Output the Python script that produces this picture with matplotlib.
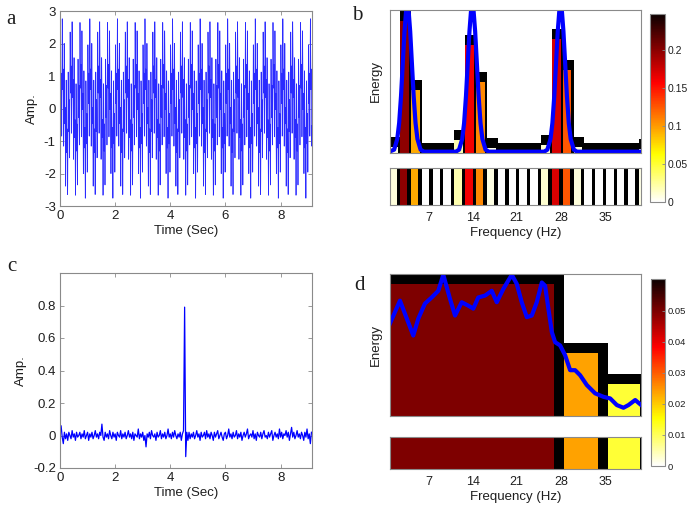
import numpy as np
import matplotlib
matplotlib.use('Agg')
import matplotlib.pyplot as plt
from matplotlib.colors import Normalize
from matplotlib.cm import ScalarMappable

plt.rcParams['font.family'] = ['Liberation Sans', 'DejaVu Sans']
plt.rcParams['axes.unicode_minus'] = False

# ---------------- data ----------------
# panel a: signal components (tall spikes repeat every ~1 s)
a_freqs_hz = [3.0, 14.0, 28.0]
a_amps = [1.0, 1.0, 1.0]
a_fs = 512.0
a_duration = 9.14

# panel c: noisy signal with a single spike (hundredths of Amp.), step 0.04 s
c_step = 0.04
c_amp_centi = [
    1, 6, -1, -5, 2, -2, 1, -3, 2, 0, -2, 3, -1, 1, -3, 2, -1, 0, 2, -2,
    1, -1, 3, -2, 0, 2, -3, 1, -1, 2, -2, 0, 3, -1, 1, -2, 2, 0, 7, -1,
    -3, 2, -1, 1, -2, 3, 0, -2, 2, -1, 1, -3, 2, 0, -1, 3, -2, 1, -1, 2,
    -2, 0, 3, -1, 1, -2, 2, -3, 1, 0, -1, 4, -2, 1, -1, 2, -3, 0, -7, 1,
    -1, 2, -2, 3, 0, -1, 1, -3, 2, -1, 0, 3, -2, 1, -1, 2, -2, 0, 4, -1,
    1, -2, 2, -1, 3, 0, -2, 1, -1, 2, -3, 1, 3, 79, -13, 2, -3, 2, -2, 1,
    -1, 2, -2, 0, 3, -1, 1, -3, 2, -1, 0, 2, -2, 3, -1, 1, -2, 2, 0, -3,
    2, -1, 1, 3, -2, 0, 2, -1, -3, 1, 2, -2, 0, 4, -1, 1, -2, 2, -1, 0,
    3, -2, 1, -1, 2, -3, 0, 2, -1, 1, 4, -2, 0, 1, -1, 3, -2, 1, -3, 2,
    0, -1, 2, -2, 1, 3, -1, 0, -2, 2, -1, 1, 3, -3, 0, 2, -1, 1, -2, 4,
    -1, 2, -2, 1, 0, 3, -1, 2, -3, 1, 5, -1, 2, -2, 0, 3, -1, 1, -2, 2,
    0, -3, 2, -1, 4, -2, 1, -5, 2,
]

# panel b: band energies
b_edges = [0.78, 2.50, 4.22, 5.94, 7.66, 9.38, 11.10, 12.82, 14.54, 16.26,
           17.98, 19.70, 21.42, 23.14, 24.86, 26.58, 28.30, 30.02, 31.74,
           33.46, 35.18, 36.90, 38.62, 40.34, 42.06]
b_energy = [0.0095, 0.198, 0.094, 0.0, 0.0, 0.0, 0.020, 0.162, 0.107, 0.0075,
            0.0, 0.0, 0.0, 0.0, 0.012, 0.171, 0.125, 0.009, 0.0, 0.0,
            0.0, 0.0, 0.0, 0.006]
b_vmax = 0.247
b_cbar_ticks = [0, 0.05, 0.1, 0.15, 0.2]
b_cbar_labels = ['0', '0.05', '0.1', '0.15', '0.2']
# spectrum curve in b
b_curve_f = [0.8, 1.55, 2.05, 2.35, 2.65, 2.95, 3.2, 3.45, 3.65, 3.85, 4.1, 4.35,
             4.65, 4.95, 5.25, 5.75, 6.3,
             11.35, 11.85, 12.35, 12.65, 12.95, 13.25, 13.5, 13.75, 13.95, 14.15,
             14.4, 14.65, 14.95, 15.25, 15.55, 16.05, 16.55,
             25.35, 25.85, 26.35, 26.65, 26.95, 27.25, 27.5, 27.75, 27.95, 28.15,
             28.4, 28.65, 28.95, 29.25, 29.55, 30.05, 30.55, 40.8]
b_curve_v = [0.002, 0.005, 0.021, 0.045, 0.086, 0.139, 0.183, 0.214, 0.222, 0.214,
             0.183, 0.139, 0.086, 0.045, 0.021, 0.005, 0.002,
             0.002, 0.005, 0.021, 0.045, 0.086, 0.139, 0.183, 0.214, 0.222, 0.214,
             0.183, 0.139, 0.086, 0.045, 0.021, 0.005, 0.002,
             0.002, 0.005, 0.021, 0.045, 0.086, 0.139, 0.183, 0.214, 0.222, 0.214,
             0.183, 0.139, 0.086, 0.045, 0.021, 0.005, 0.002, 0.002]

# panel d: band energies
d_edges = [0.0, 28.45, 35.45, 42.06]
d_energy = [0.0497, 0.0236, 0.0120]
d_vmax = 0.0602
d_cbar_ticks = [0, 0.01, 0.02, 0.03, 0.04, 0.05]
d_cbar_labels = ['0', '0.01', '0.02', '0.03', '0.04', '0.05']
d_curve_f = [0.89, 2.48, 4.59, 5.38, 6.44, 7.51, 8.56, 9.35, 10.41, 11.21, 12.27,
             13.32, 14.11, 14.90, 15.97, 17.03, 17.83, 18.87, 20.21, 21.0, 21.79,
             22.59, 23.38, 24.17, 24.97, 25.49, 26.02, 26.56, 27.08, 27.87, 28.67,
             29.46, 30.25, 31.05, 32.11, 33.43, 34.75, 35.81, 36.87, 37.92, 38.71,
             39.78, 40.73]
d_curve_v = [0.0347, 0.0433, 0.0302, 0.0365, 0.0422, 0.0445, 0.0470, 0.0530, 0.0440,
             0.0377, 0.0427, 0.0414, 0.0403, 0.0445, 0.0452, 0.0470, 0.0427, 0.0477,
             0.0530, 0.0496, 0.0427, 0.0371, 0.0377, 0.0427, 0.0501, 0.0489, 0.0402,
             0.0315, 0.0277, 0.0265, 0.0228, 0.0172, 0.0172, 0.0153, 0.0116, 0.0085,
             0.0072, 0.0066, 0.0041, 0.0031, 0.0041, 0.0060, 0.0041]

freq_ticks = [7, 14, 21, 28, 35]

# ---------------- style ----------------
W, H = 694, 507
SPINE = '#8a8a8a'
TXT = '#1e1e1e'
BLUE = '#0000ff'
cmap = plt.get_cmap('hot_r')

fig = plt.figure(figsize=(W / 100, H / 100), dpi=100)


def axes_px(l, t, r, b):
    return fig.add_axes([l / W, 1 - b / H, (r - l) / W, (b - t) / H])


def style_frame(ax):
    for s in ax.spines.values():
        s.set_color(SPINE)
        s.set_linewidth(0.8)


def style_time_axes(ax):
    style_frame(ax)
    ax.tick_params(direction='in', top=True, right=True, length=3, width=0.6,
                   color=SPINE, labelcolor=TXT, labelsize=9.5, pad=3)


# ---- panel a ----
axa = axes_px(60, 11, 312, 206)
t_a = np.arange(0, a_duration, 1 / a_fs)
sig_a = np.zeros_like(t_a)
for f, amp in zip(a_freqs_hz, a_amps):
    sig_a += amp * np.sin(2 * np.pi * f * t_a)
axa.plot(t_a, sig_a, color='#2a2aff', lw=0.55)
axa.set_xlim(0, a_duration)
axa.set_ylim(-3, 3)
axa.set_xticks([0, 2, 4, 6, 8])
axa.set_yticks([-3, -2, -1, 0, 1, 2, 3])
axa.set_xlabel('Time (Sec)', fontsize=9.5, color=TXT, labelpad=2)
axa.set_ylabel('Amp.', fontsize=9.5, color=TXT, labelpad=4)
style_time_axes(axa)

# ---- panel c ----
axc = axes_px(60, 273, 312, 468)
c_vals = np.array(c_amp_centi) / 100.0
t_c = np.arange(len(c_vals)) * c_step
axc.plot(t_c, c_vals, color=BLUE, lw=0.9)
axc.set_xlim(0, a_duration)
axc.set_ylim(-0.2, 1.0)
axc.set_xticks([0, 2, 4, 6, 8])
axc.set_yticks([-0.2, 0, 0.2, 0.4, 0.6, 0.8])
axc.set_yticklabels(['-0.2', '0', '0.2', '0.4', '0.6', '0.8'])
axc.set_xlabel('Time (Sec)', fontsize=9.5, color=TXT, labelpad=2)
axc.set_ylabel('Amp.', fontsize=9.5, color=TXT, labelpad=4)
style_time_axes(axc)


def draw_bands(ax, edges, energy, gap, cap, norm, strip=False):
    edges = np.asarray(edges)
    energy = np.asarray(energy)
    lefts = edges[:-1]
    widths = np.diff(edges)
    colors = [cmap(norm(e)) for e in energy]
    if strip:
        ax.bar(lefts, np.ones_like(energy), width=widths, align='edge',
               color='black', linewidth=0)
        ax.bar(lefts, np.ones_like(energy), width=widths - gap, align='edge',
               color=colors, linewidth=0)
    else:
        ax.bar(lefts, energy + cap, width=widths, align='edge',
               color='black', linewidth=0)
        ax.bar(lefts, energy, width=widths - gap, align='edge',
               color=colors, linewidth=0)


def style_band_axes(ax, show_ticks):
    style_frame(ax)
    ax.set_xlim(0.9, 40.7)
    ax.set_yticks([])
    if show_ticks:
        ax.set_xticks(freq_ticks)
        ax.tick_params(axis='x', length=0, labelsize=9, labelcolor=TXT, pad=5)
        ax.set_xlabel('Frequency (Hz)', fontsize=9.5, color=TXT, labelpad=2)
    else:
        ax.set_xticks([])


def make_cbar(cax, norm, ticks, labels, size):
    cb = fig.colorbar(ScalarMappable(norm=norm, cmap=cmap), cax=cax)
    cb.set_ticks(ticks)
    cb.set_ticklabels(labels)
    cb.outline.set_edgecolor(SPINE)
    cb.outline.set_linewidth(0.8)
    cax.tick_params(direction='in', length=2.5, width=0.6, color=SPINE,
                    labelsize=size, labelcolor=TXT, pad=2)


# ---- panel b ----
norm_b = Normalize(0, b_vmax)
axb = axes_px(390, 10, 641, 153)
b_ylim = (0, 0.215)
draw_bands(axb, b_edges, b_energy, gap=0.35, cap=0.07 * b_ylim[1], norm=norm_b)
axb.plot(b_curve_f, b_curve_v, color=BLUE, lw=3.0, solid_joinstyle='round')
axb.set_ylim(*b_ylim)
axb.set_ylabel('Energy', fontsize=9.5, color=TXT, labelpad=6)
style_band_axes(axb, False)

axbs = axes_px(390, 168, 641, 205)
draw_bands(axbs, b_edges, b_energy, gap=0.55, cap=0, norm=norm_b, strip=True)
axbs.set_ylim(0, 1)
style_band_axes(axbs, True)

caxb = axes_px(650, 14, 665, 202)
make_cbar(caxb, norm_b, b_cbar_ticks, b_cbar_labels, 7.5)

# ---- panel d ----
norm_d = Normalize(0, d_vmax)
axd = axes_px(390, 274, 641, 416)
d_ylim = (0, 0.0533)
draw_bands(axd, d_edges, d_energy, gap=1.55, cap=0.07 * d_ylim[1], norm=norm_d)
axd.plot(d_curve_f, d_curve_v, color=BLUE, lw=3.0, solid_joinstyle='round')
axd.set_ylim(*d_ylim)
axd.set_ylabel('Energy', fontsize=9.5, color=TXT, labelpad=6)
style_band_axes(axd, False)

axds = axes_px(390, 437, 641, 469)
draw_bands(axds, d_edges, d_energy, gap=1.55, cap=0, norm=norm_d, strip=True)
axds.set_ylim(0, 1)
style_band_axes(axds, True)

caxd = axes_px(651, 279, 665, 466)
make_cbar(caxd, norm_d, d_cbar_ticks, d_cbar_labels, 6.8)

# ---- panel letters ----
letter_kw = dict(fontsize=15, family=['Liberation Serif', 'DejaVu Serif'],
                 color=TXT, va='baseline', ha='left')
fig.text(6 / W, 1 - 24 / H, 'a', **letter_kw)
fig.text(352 / W, 1 - 20 / H, 'b', **letter_kw)
fig.text(7 / W, 1 - 271 / H, 'c', **letter_kw)
fig.text(354 / W, 1 - 290 / H, 'd', **letter_kw)

fig.savefig('out.png', dpi=100)
